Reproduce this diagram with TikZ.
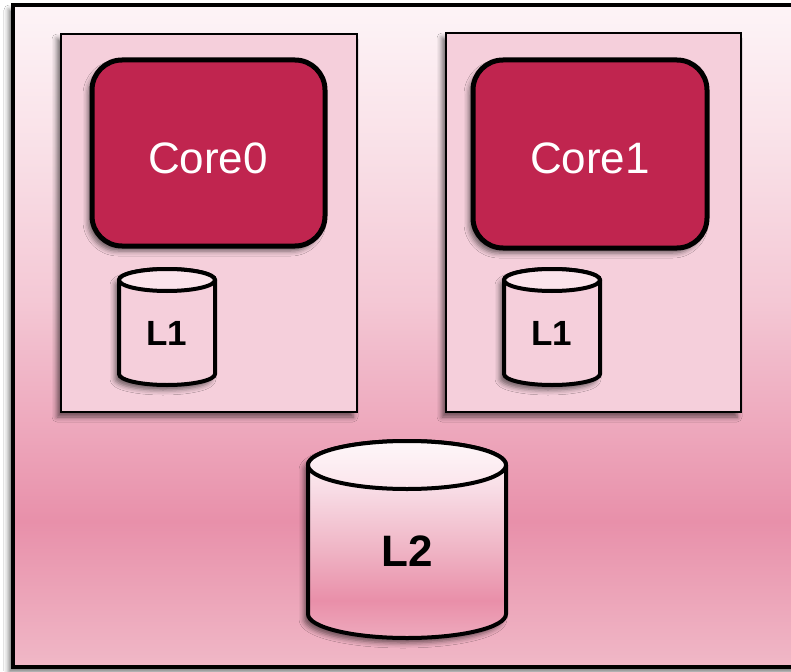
\documentclass[tikz,border=0pt]{standalone}
\usepackage{fontspec}
\setmainfont{Liberation Sans}
\usetikzlibrary{shadows.blur}
\definecolor{bgA}{HTML}{F0B8C7}
\definecolor{bgB}{HTML}{E890AA}
\definecolor{bgC}{HTML}{EEAABE}
\definecolor{bgD}{HTML}{F4C8D5}
\definecolor{bgE}{HTML}{F9E0E7}
\definecolor{bgF}{HTML}{FDF4F7}
\definecolor{boxfill}{HTML}{F5CFDB}
\definecolor{corefill}{HTML}{C0254F}
\definecolor{capfill}{HTML}{FBE4EB}
\definecolor{ltA}{HTML}{EEAABD}
\definecolor{ltB}{HTML}{E98FA9}
\definecolor{ltC}{HTML}{EFB3C4}
\definecolor{ltD}{HTML}{F8DCE5}
\definecolor{ltE}{HTML}{FFF8FA}
\pgfdeclareverticalshading{bgshade}{100bp}{color(0bp)=(bgA); color(25bp)=(bgA); color(36bp)=(bgB); color(43.7bp)=(bgC); color(52.7bp)=(bgD); color(64bp)=(bgE); color(75bp)=(bgF); color(100bp)=(bgF)}
\pgfdeclareverticalshading{ltwoshade}{100bp}{color(0bp)=(ltA); color(25bp)=(ltA); color(34.5bp)=(ltB); color(47bp)=(ltC); color(62.5bp)=(ltD); color(75bp)=(ltE); color(100bp)=(ltE)}
\tikzset{
  shad/.style={blur shadow={shadow xshift=-4pt, shadow yshift=-5pt, shadow blur radius=5pt, shadow opacity=55}},
  outerbox/.style={draw=black, line width=4pt, shading=bgshade, shad},
  innerbox/.style={draw=black, line width=1.8pt, fill=boxfill, shad},
  corebox/.style={draw=black, line width=5pt, fill=corefill, rounded corners=30pt, shad},
  coretext/.style={text=white, font=\fontsize{44}{50}\selectfont},
  cylbody/.style={draw=black, line width=4pt, fill=boxfill, shad},
  cylcap/.style={draw=black, line width=4pt, fill=capfill},
  bigbody/.style={draw=black, line width=4pt, shading=ltwoshade, shad},
  bigcap/.style={draw=black, line width=4pt, top color=white!70!capfill, bottom color=capfill},
  lonetext/.style={font=\bfseries\fontsize{35}{40}\selectfont},
  ltwotext/.style={font=\bfseries\fontsize{44}{50}\selectfont},
}
\begin{document}
\begin{tikzpicture}[x=1pt,y=1pt]
\useasboundingbox (0,0) rectangle (791,-671);
\fill[white] (0,0) rectangle (791,-671);
% outer chip
\path[outerbox] (13,-5) rectangle (805,-667);
% core tiles
\path[innerbox] (61,-34) rectangle (357,-412);
\path[innerbox] (446,-33) rectangle (741,-412);
\path[corebox] (92,-60) rectangle (325,-246);
\path[corebox] (473,-60) rectangle (707,-248);
\node[coretext] (core0) at (208,-158) {Core0};
\node[coretext] (core1) at (590,-158) {Core1};
% L1 left
\path[cylbody] (119,-280) -- (119,-374) arc[start angle=180, end angle=360, x radius=48, y radius=11] -- (215,-280) arc[start angle=0, end angle=180, x radius=48, y radius=11] -- cycle;
\path[cylcap] (167,-280) ellipse [x radius=48, y radius=11];
\node[lonetext] (l1a) at (167,-333) {L1};
% L1 right
\path[cylbody] (504,-280) -- (504,-374) arc[start angle=180, end angle=360, x radius=48, y radius=11] -- (600,-280) arc[start angle=0, end angle=180, x radius=48, y radius=11] -- cycle;
\path[cylcap] (552,-280) ellipse [x radius=48, y radius=11];
\node[lonetext] (l1b) at (552,-333) {L1};
% L2
\path[bigbody] (308,-465) -- (308,-614) arc[start angle=180, end angle=360, x radius=99, y radius=24] -- (506,-465) arc[start angle=0, end angle=180, x radius=99, y radius=24] -- cycle;
\path[bigcap] (407,-465) ellipse [x radius=99, y radius=24];
\node[ltwotext] (l2) at (407,-551) {L2};
\end{tikzpicture}
\end{document}
